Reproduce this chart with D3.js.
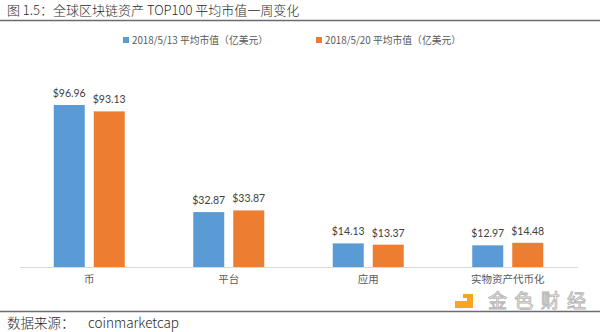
<!DOCTYPE html>
<html>
<head>
<meta charset="utf-8">
<script src="https://cdn.jsdelivr.net/npm/d3@7"></script>
<style>
  body { margin: 0; background: #fff; }
  svg { display: block; }
</style>
</head>
<body>
<svg id="chart" width="600" height="332"></svg>
<script>
const title = "图 1.5：全球区块链资产 TOP100 平均市值一周变化";
const sourceLabel = "数据来源：";
const sourceName = "coinmarketcap";
const categories = ["币", "平台", "应用", "实物资产代币化"];
const seriesNames = ["2018/5/13 平均市值（亿美元）", "2018/5/20 平均市值（亿美元）"];
const values0513 = [96.96, 32.87, 14.13, 12.97];
const values0520 = [93.13, 33.87, 13.37, 14.48];
const colors = ["#5B9BD5", "#ED7D31"];

const svg = d3.select("#chart");
const font = "'Noto Sans CJK SC', 'Noto Sans', sans-serif";

// Title
svg.append("text").attr("x", 7).attr("y", 15)
  .attr("font-family", font).attr("font-size", 13).attr("font-weight", 300).attr("fill", "#2a2a2a")
  .text(title);
svg.append("line").attr("x1", 0).attr("x2", 600).attr("y1", 20.5).attr("y2", 20.5)
  .attr("stroke", "#6b6b78").attr("stroke-width", 1.5);

// Scales
const x0 = d3.scaleBand().domain(categories).range([19.5, 577.5]);
const x1 = d3.scaleBand().domain([0, 1]).range([-35.5, 35.5]).paddingInner(9 / 40);
const y = d3.scaleLinear().domain([0, 100]).range([267, 99.9]);

const data = categories.map((c, i) => ({ cat: c, vals: [values0513[i], values0520[i]] }));

// Axis line (x-axis)
const xAxis = d3.axisBottom(x0).tickSize(0).tickPadding(9);
const gx = svg.append("g").attr("transform", "translate(0,267)").call(xAxis);
gx.select(".domain").attr("stroke", "#d9d9d9").attr("stroke-width", 1);
gx.selectAll("text").attr("font-family", font).attr("font-size", 10.5).attr("fill", "#595959");

// Bars
const groups = svg.append("g").selectAll("g").data(data).join("g")
  .attr("transform", d => `translate(${x0(d.cat) + x0.bandwidth() / 2},0)`);

groups.selectAll("rect").data(d => d.vals.map((v, k) => ({ v, k }))).join("rect")
  .attr("x", d => x1(d.k))
  .attr("width", x1.bandwidth())
  .attr("y", d => y(d.v))
  .attr("height", d => y(0) - y(d.v))
  .attr("fill", d => colors[d.k]);

groups.selectAll("text.val").data(d => d.vals.map((v, k) => ({ v, k }))).join("text")
  .attr("class", "val")
  .attr("x", d => x1(d.k) + x1.bandwidth() / 2)
  .attr("y", d => y(d.v) - 8)
  .attr("text-anchor", "middle")
  .attr("font-family", "Lato, 'Open Sans', sans-serif")
  .attr("font-size", 10.5)
  .attr("fill", "#404040")
  .text(d => "$" + d.v.toFixed(2));

// Legend
const legendX = [123, 316];
const legend = svg.append("g");
seriesNames.forEach((s, k) => {
  legend.append("rect").attr("x", legendX[k]).attr("y", 37).attr("width", 6).attr("height", 6)
    .attr("fill", colors[k]);
  legend.append("text").attr("x", legendX[k] + 9).attr("y", 43.5)
    .attr("font-family", font).attr("font-size", 9.8).attr("fill", "#595959")
    .text(s);
});

// Footer
svg.append("line").attr("x1", 0).attr("x2", 600).attr("y1", 311.5).attr("y2", 311.5)
  .attr("stroke", "#6b6b78").attr("stroke-width", 1.5);
svg.append("text").attr("x", 7).attr("y", 328)
  .attr("font-family", font).attr("font-size", 13.5).attr("font-weight", 300).attr("fill", "#2a2a2a")
  .text(sourceLabel);
svg.append("text").attr("x", 88).attr("y", 328)
  .attr("font-family", font).attr("font-size", 13.5).attr("font-weight", 300).attr("fill", "#2a2a2a")
  .text(sourceName);

// Watermark logo
const wm = svg.append("g");
wm.append("path")
  .attr("d", "M463,294 H473 V308 H455 V301 H467 V298 H463 Z")
  .attr("fill", "#F5A623");
wm.append("rect").attr("x", 486).attr("y", 293).attr("width", 102).attr("height", 16).attr("fill", "#fff").attr("opacity", 0.6);
wm.append("text").attr("x", 488).attr("y", 307.5)
  .attr("font-family", font).attr("font-size", 19).attr("fill", "#fff")
  .attr("stroke", "#b5b5b5").attr("stroke-width", 0.9)
  .attr("textLength", 98)
  .text("金色财经");
</script>
</body>
</html>
